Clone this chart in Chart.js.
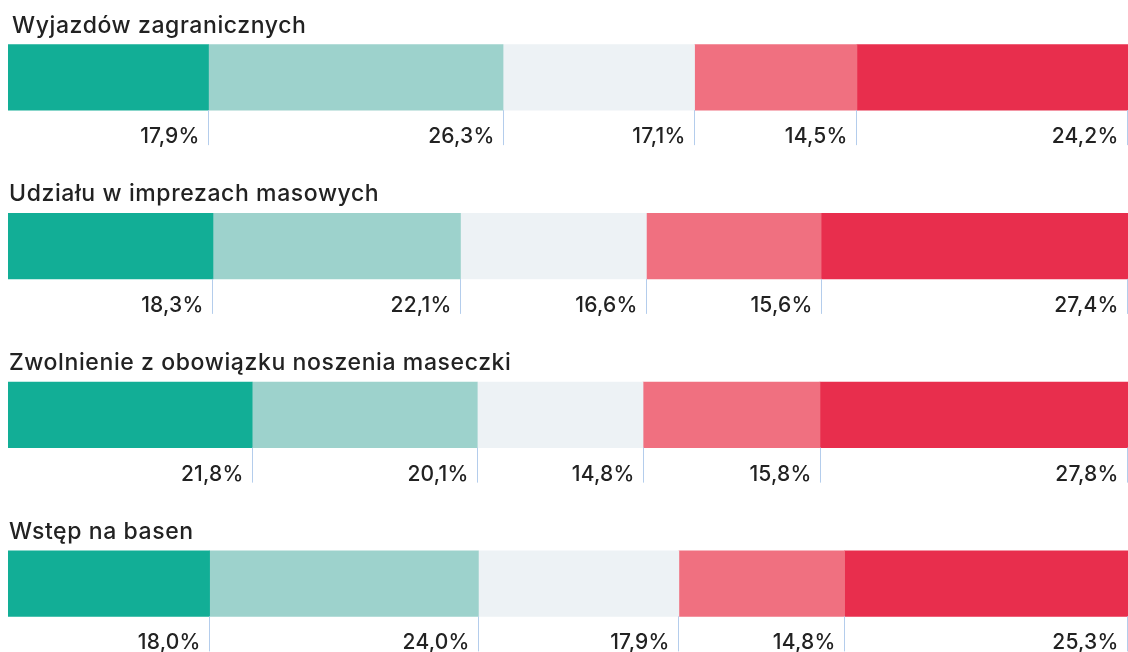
<!DOCTYPE html>
<html>
<head>
<meta charset="utf-8">
<script src="https://cdn.jsdelivr.net/npm/chart.js@4/dist/chart.umd.min.js"></script>
<style>
  html, body { margin: 0; padding: 0; background: #fff; width: 1128px; height: 652px; overflow: hidden; position: relative; }
  #c { position: absolute; left: 8px; top: -7px; }
</style>
</head>
<body>
<canvas id="c" width="1120" height="675"></canvas>
<script>
const categories = [
  'Wyjazdów zagranicznych',
  'Udziału w imprezach masowych',
  'Zwolnienie z obowiązku noszenia maseczki',
  'Wstęp na basen'
];
const series1 = [17.9, 18.3, 21.8, 18.0];
const series2 = [26.3, 22.1, 20.1, 24.0];
const series3 = [17.1, 16.6, 14.8, 17.9];
const series4 = [14.5, 15.6, 15.8, 14.8];
const series5 = [24.2, 27.4, 27.8, 25.3];
const colors = ['#12ae96', '#9dd2cc', '#edf2f5', '#f07080', '#e82e4d'];

const FONT = '"Inter", "Noto Sans", sans-serif';

const annotate = {
  id: 'annotate',
  afterDatasetsDraw(chart) {
    const ctx = chart.ctx;
    ctx.save();
    ctx.fillStyle = '#222222';
    ctx.textAlign = 'left';
    ctx.textBaseline = 'alphabetic';
    ctx.font = '500 23px ' + FONT;
    ctx.letterSpacing = '0.6px';
    const meta0 = chart.getDatasetMeta(0);
    meta0.data.forEach((bar, i) => {
      const top = bar.y - bar.height / 2;
      ctx.fillText(categories[i], i === 0 ? 4 : 1, top - 12);
    });
    ctx.font = '500 21px ' + FONT;
    ctx.letterSpacing = '0.2px';
    ctx.textAlign = 'right';
    chart.data.datasets.forEach((ds, di) => {
      const meta = chart.getDatasetMeta(di);
      meta.data.forEach((bar, i) => {
        const bottom = bar.y + bar.height / 2;
        const lx = Math.min(Math.floor(bar.x), chart.width - 1) + 0.5;
        ctx.strokeStyle = '#b4cdec';
        ctx.lineWidth = 1;
        ctx.beginPath();
        ctx.moveTo(lx, bottom);
        ctx.lineTo(lx, bottom + 35);
        ctx.stroke();
        const txt = ds.data[i].toFixed(1).replace('.', ',') + '%';
        ctx.fillStyle = '#222222';
        ctx.fillText(txt, lx - 9, bottom + 33);
      });
    });
    ctx.restore();
  }
};

new Chart(document.getElementById('c'), {
  type: 'bar',
  data: {
    labels: categories,
    datasets: [series1, series2, series3, series4, series5].map((d, i) => ({
      data: d,
      backgroundColor: colors[i],
      borderWidth: 0,
      barThickness: 65.5
    }))
  },
  options: {
    indexAxis: 'y',
    responsive: false,
    devicePixelRatio: 1,
    animation: false,
    layout: { padding: 0 },
    scales: {
      x: { stacked: true, min: 0, max: 100, display: false },
      y: { stacked: true, display: false }
    },
    plugins: { legend: { display: false }, tooltip: { enabled: false } }
  },
  plugins: [annotate]
});
</script>
</body>
</html>
